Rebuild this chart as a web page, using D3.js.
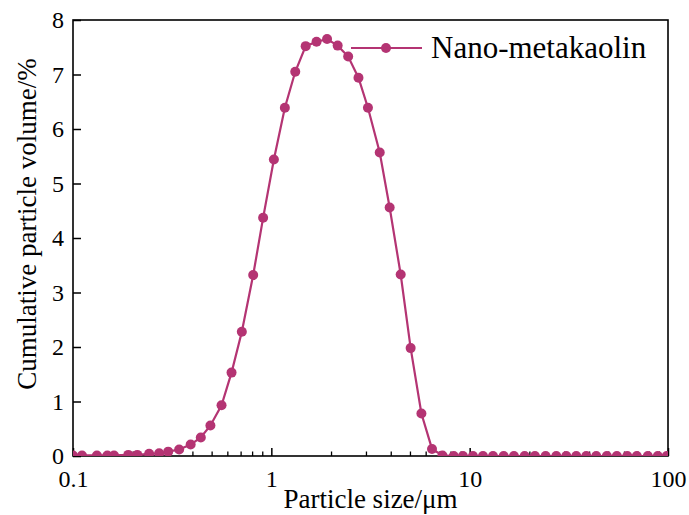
<!DOCTYPE html>
<html>
<head>
<meta charset="utf-8">
<script src="https://cdn.jsdelivr.net/npm/d3@7"></script>
<style>
  body { margin: 0; background: #fff; }
  svg text { font-family: "Liberation Serif", "Times New Roman", serif; fill: #000; }
</style>
</head>
<body>
<svg id="chart" width="689" height="515"></svg>
<script>
// particle size (um) and volume (%)
const sizes = [0.100, 0.111, 0.132, 0.149, 0.161, 0.190, 0.211, 0.242, 0.272, 0.302,
  0.343, 0.392, 0.441, 0.493, 0.561, 0.630, 0.710, 0.810, 0.909, 1.03,
  1.17, 1.32, 1.49, 1.69, 1.91, 2.16, 2.44, 2.75, 3.07, 3.52,
  3.95, 4.49, 5.04, 5.71, 6.46, 7.29, 8.31, 9.25, 10.39, 11.67,
  13.11, 14.84, 16.72, 18.93, 21.33, 24.15, 27.34, 30.70, 34.47, 38.71,
  43.47, 49.17, 55.22, 62.31, 69.64, 79.13, 88.84, 98.6];
const volumes = [0.01, 0.01, 0.01, 0.01, 0.01, 0.02, 0.02, 0.04, 0.05, 0.08,
  0.12, 0.21, 0.34, 0.56, 0.93, 1.53, 2.28, 3.32, 4.37, 5.44,
  6.39, 7.05, 7.52, 7.60, 7.65, 7.53, 7.33, 6.94, 6.39, 5.57,
  4.56, 3.33, 1.98, 0.78, 0.13, 0.01, 0, 0, 0, 0,
  0, 0, 0, 0, 0, 0, 0, 0, 0, 0,
  0, 0, 0, 0, 0, 0, 0, 0];
const xTicks = [0.1, 1, 10, 100];
const yTicks = [0, 1, 2, 3, 4, 5, 6, 7, 8];
const seriesName = "Nano-metakaolin";

const data = sizes.map((s, i) => ({size: s, vol: volumes[i]}));

const LEFT = 73, RIGHT = 668, TOP = 20, BOTTOM = 456;
const COLOR = "#b43473";
const FONT = "'Liberation Serif', 'Times New Roman', serif";

const x = d3.scaleLog().domain([0.1, 100]).range([LEFT, RIGHT]);
const y = d3.scaleLinear().domain([0, 8]).range([BOTTOM, TOP]);

const svg = d3.select("#chart");

svg.append("defs").append("clipPath").attr("id", "plot")
  .append("rect")
  .attr("x", LEFT).attr("y", TOP)
  .attr("width", RIGHT - LEFT).attr("height", BOTTOM - TOP);

// minor x ticks
const minor = [];
[0.1, 1, 10].forEach(d => { for (let k = 2; k <= 9; k++) minor.push(d * k); });

svg.append("g")
  .attr("transform", `translate(0,${BOTTOM})`)
  .call(d3.axisBottom(x).tickValues(minor).tickSize(-4.5).tickFormat(""))
  .call(g => g.select(".domain").remove())
  .call(g => g.selectAll("line").attr("stroke", "#000").attr("stroke-width", 1.3));

svg.append("g")
  .attr("transform", `translate(0,${BOTTOM})`)
  .call(d3.axisBottom(x).tickValues(xTicks).tickSize(-8).tickPadding(13.5)
    .tickFormat(d => d3.format("")(d)))
  .attr("font-family", FONT)
  .attr("font-size", 24)
  .call(g => g.select(".domain").remove())
  .call(g => g.selectAll("line").attr("stroke", "#000").attr("stroke-width", 1.5))
  .call(g => g.selectAll("text").style("font-family", FONT).style("font-size", "24px"));

svg.append("g")
  .attr("transform", `translate(${LEFT},0)`)
  .call(d3.axisLeft(y).tickValues(yTicks).tickSize(-8).tickPadding(9))
  .attr("font-family", FONT)
  .attr("font-size", 24)
  .call(g => g.select(".domain").remove())
  .call(g => g.selectAll("line").attr("stroke", "#000").attr("stroke-width", 1.5))
  .call(g => g.selectAll("text").style("font-family", FONT).style("font-size", "24px"));

// frame
svg.append("rect")
  .attr("x", LEFT).attr("y", TOP)
  .attr("width", RIGHT - LEFT).attr("height", BOTTOM - TOP)
  .attr("fill", "none").attr("stroke", "#000").attr("stroke-width", 1.6);

// series
const plot = svg.append("g").attr("clip-path", "url(#plot)");

plot.append("path")
  .datum(data)
  .attr("fill", "none")
  .attr("stroke", COLOR)
  .attr("stroke-width", 2.2)
  .attr("d", d3.line().x(d => x(d.size)).y(d => y(d.vol)));

plot.selectAll(".dot")
  .data(data)
  .enter()
  .append("circle")
  .classed("dot", true)
  .attr("cx", d => x(d.size))
  .attr("cy", d => y(d.vol))
  .attr("r", 5)
  .attr("fill", COLOR);

// legend
const legend = svg.append("g");
legend.append("line")
  .attr("x1", 351).attr("x2", 422).attr("y1", 48).attr("y2", 48)
  .attr("stroke", COLOR).attr("stroke-width", 2.2);
legend.append("circle")
  .attr("cx", 386).attr("cy", 48).attr("r", 5).attr("fill", COLOR);
legend.append("text")
  .attr("x", 431).attr("y", 58)
  .attr("font-size", 31)
  .text(seriesName);

// axis titles
svg.append("text")
  .attr("x", (LEFT + RIGHT) / 2).attr("y", 508)
  .attr("text-anchor", "middle")
  .attr("font-size", 27)
  .text("Particle size/μm");

svg.append("text")
  .attr("transform", "translate(36,224) rotate(-90)")
  .attr("text-anchor", "middle")
  .attr("font-size", 27)
  .text("Cumulative particle volume/%");
</script>
</body>
</html>
